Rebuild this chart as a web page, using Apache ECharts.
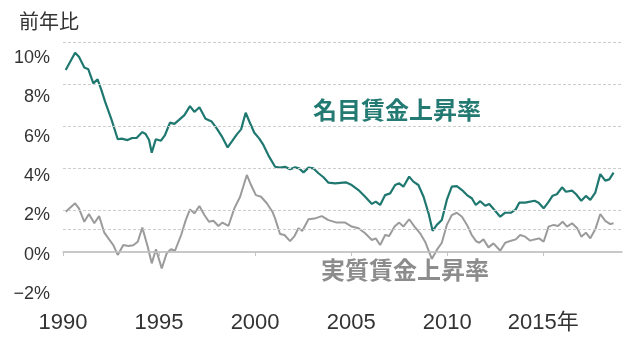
<!DOCTYPE html>
<html>
<head>
<meta charset="utf-8">
<script src="https://cdn.jsdelivr.net/npm/echarts@6/dist/echarts.min.js"></script>
<style>
html,body{margin:0;padding:0;background:#fff;}
#chart{width:640px;height:358px;}
</style>
</head>
<body>
<div id="chart"></div>
<script>
// ---- data ----
const nominalYears = [
  1990.14,1990.63,1990.83,1991.11,1991.32,1991.58,1991.8,1992.0,1992.19,1992.53,
  1992.85,1993.05,1993.36,1993.6,1993.83,1994.13,1994.3,1994.48,1994.62,1994.83,
  1995.1,1995.31,1995.57,1995.8,1996.04,1996.32,1996.61,1996.84,1997.1,1997.42,
  1997.74,1998.0,1998.26,1998.57,1998.82,1999.05,1999.27,1999.51,1999.74,1999.96,
  2000.21,2000.43,2000.73,2001.04,2001.3,2001.56,2001.82,2002.08,2002.29,2002.52,
  2002.78,2003.04,2003.3,2003.56,2003.82,2004.17,2004.72,2005.03,2005.38,2005.73,
  2006.08,2006.28,2006.51,2006.77,2007.03,2007.29,2007.5,2007.72,2008.02,2008.24,
  2008.5,2008.77,2009.03,2009.24,2009.46,2009.72,2009.98,2010.24,2010.5,2010.77,
  2011.03,2011.28,2011.49,2011.72,2011.98,2012.19,2012.46,2012.76,2013.02,2013.33,
  2013.57,2013.75,2014.06,2014.55,2014.76,2015.02,2015.25,2015.49,2015.71,2015.98,
  2016.18,2016.5,2016.7,2016.98,2017.22,2017.45,2017.71,2017.97,2018.23,2018.44,
  2018.66
];
const nominalValues = [
  8.67,9.49,9.30,8.79,8.70,8.03,8.22,7.71,7.16,6.29,
  5.37,5.40,5.33,5.43,5.43,5.71,5.62,5.33,4.73,5.37,
  5.30,5.57,6.16,6.10,6.29,6.52,6.95,6.67,6.89,6.35,
  6.21,5.89,5.52,4.98,5.30,5.60,5.84,6.63,6.13,5.68,
  5.41,5.10,4.54,4.06,4.02,4.06,3.94,4.03,3.98,3.79,
  4.02,3.98,3.75,3.56,3.30,3.27,3.32,3.19,2.95,2.63,
  2.29,2.40,2.24,2.71,2.79,3.19,3.27,3.11,3.59,3.35,
  3.19,2.63,1.84,1.01,1.29,1.52,2.48,3.11,3.14,2.95,
  2.71,2.56,2.24,2.42,2.20,2.29,2.00,1.68,1.87,1.87,
  2.03,2.35,2.35,2.44,2.35,2.08,2.35,2.68,2.75,3.08,
  2.87,2.92,2.76,2.44,2.67,2.48,2.83,3.71,3.40,3.46,
  3.78
];
const realYears = [
  1990.14,1990.63,1990.83,1991.11,1991.35,1991.63,1991.88,1992.15,1992.4,1992.62,
  1992.85,1993.14,1993.4,1993.66,1993.89,1994.13,1994.41,1994.62,1994.84,1995.14,
  1995.4,1995.62,1995.83,1996.15,1996.39,1996.61,1996.84,1997.1,1997.36,1997.6,
  1997.83,1998.09,1998.3,1998.61,1998.92,1999.22,1999.57,1999.79,2000.04,2000.31,
  2000.61,2000.9,2001.04,2001.3,2001.53,2001.82,2002.05,2002.26,2002.46,2002.78,
  2003.09,2003.47,2003.82,2004.25,2004.69,2005.03,2005.38,2005.73,2006.08,2006.28,
  2006.51,2006.77,2006.98,2007.26,2007.5,2007.72,2008.02,2008.3,2008.59,2008.85,
  2009.2,2009.46,2009.72,2009.98,2010.24,2010.5,2010.77,2011.03,2011.28,2011.5,
  2011.67,2011.89,2012.15,2012.41,2012.76,2013.02,2013.33,2013.57,2013.8,2014.06,
  2014.32,2014.55,2014.79,2015.02,2015.28,2015.54,2015.77,2016.01,2016.24,2016.5,
  2016.77,2016.98,2017.22,2017.45,2017.71,2017.97,2018.23,2018.49,2018.66
];
const realValues = [
  1.92,2.32,2.08,1.44,1.81,1.37,1.71,0.92,0.60,0.33,
  -0.14,0.33,0.29,0.32,0.49,1.16,0.25,-0.54,0.13,-0.78,
  -0.06,0.13,0.06,0.81,1.52,2.03,1.84,2.19,1.76,1.44,
  1.49,1.24,1.40,1.24,2.08,2.63,3.67,3.19,2.71,2.63,
  2.32,1.92,1.60,0.86,0.81,0.52,0.76,1.13,1.01,1.56,
  1.59,1.71,1.52,1.40,1.40,1.21,1.13,0.89,0.57,0.65,
  0.33,0.81,0.76,1.21,1.40,1.21,1.56,1.21,0.89,0.49,
  -0.33,0.10,0.44,1.29,1.76,1.87,1.68,1.29,0.81,0.52,
  0.44,0.60,0.22,0.41,0.06,0.44,0.54,0.60,0.81,0.73,
  0.54,0.60,0.65,0.49,1.21,1.29,1.24,1.44,1.21,1.37,
  1.13,0.73,0.92,0.65,1.08,1.81,1.48,1.33,1.37
];
const xTickYears = [1990, 1995, 2000, 2005, 2010, 2015];
const yTickValues = [-2, 0, 2, 4, 6, 8, 10];
const dashedRefLines = [10, 8, 6, 4, 2, 1.07];
const zeroLine = 0;
const nominalLabel = '名目賃金上昇率';
const realLabel = '実質賃金上昇率';
const yUnitLabel = '前年比';

// ---- chart ----
const FONT = "'Liberation Sans', 'Noto Sans CJK JP', sans-serif";
const CJK = "'Noto Sans CJK JP', sans-serif";
const TEAL = '#1f7870';
const GRAY = '#9b9b9b';

const zip = (xs, ys) => xs.map((x, i) => [x, ys[i]]);

const chart = echarts.init(document.getElementById('chart'), null, {renderer: 'canvas'});
chart.setOption({
  animation: false,
  backgroundColor: '#ffffff',
  title: {
    text: yUnitLabel, left: 14, top: 6,
    textStyle: {fontFamily: CJK, fontSize: 20, fontWeight: 'normal', color: '#333'}
  },
  grid: {left: 63, right: 18, top: 18.7, bottom: 64},
  xAxis: {
    type: 'value', min: 1990, max: 2019.1,
    splitLine: {show: false},
    axisLine: {show: true, lineStyle: {color: '#c4c4c4', width: 1.5}},
    axisTick: {show: true, length: 4, customValues: xTickYears, lineStyle: {color: '#c4c4c4'}},
    axisLabel: {
      customValues: xTickYears, margin: 18,
      fontFamily: FONT, fontSize: 22, color: '#333',
      formatter: v => (v === 2015 ? v + '年' : String(v))
    }
  },
  yAxis: [
    { // data scale: 21 px per 1%
      type: 'value', min: -2, max: 11.11, show: false,
      splitLine: {show: false}
    },
    { // tick labels only
      type: 'value', min: -2, max: 12, interval: 2, position: 'left',
      axisLine: {show: false}, axisTick: {show: false}, splitLine: {show: false},
      axisLabel: {
        margin: 13, fontFamily: FONT, fontSize: 18, color: '#333',
        padding: [5, 0, 0, 0],
        formatter: v => (yTickValues.indexOf(v) >= 0 ? (v < 0 ? '\u2212' + Math.abs(v) : v) + '%' : '')
      }
    }
  ],
  series: [
    {
      name: 'real', type: 'line', yAxisIndex: 0, showSymbol: false,
      data: zip(realYears, realValues),
      lineStyle: {color: GRAY, width: 2}, z: 3,
      markLine: {
        silent: true, symbol: 'none', label: {show: false},
        data: [{yAxis: zeroLine}],
        lineStyle: {color: '#c4c4c4', type: 'solid', width: 1.5}
      }
    },
    {
      name: 'nominal', type: 'line', yAxisIndex: 0, showSymbol: false,
      data: zip(nominalYears, nominalValues),
      lineStyle: {color: TEAL, width: 2.2}, z: 4,
      markLine: {
        silent: true, symbol: 'none', label: {show: false},
        data: dashedRefLines.map(v => ({yAxis: v})),
        lineStyle: {color: '#cdcdcd', type: [3, 2], width: 1}
      }
    }
  ],
  graphic: [
    {type: 'text', left: 313, top: 98,
     style: {text: nominalLabel, font: "bold 24px 'Noto Sans CJK JP', sans-serif", fill: '#237a72'}},
    {type: 'text', left: 321, top: 258,
     style: {text: realLabel, font: "bold 24px 'Noto Sans CJK JP', sans-serif", fill: '#8c8c8c'}}
  ]
});
</script>
</body>
</html>
